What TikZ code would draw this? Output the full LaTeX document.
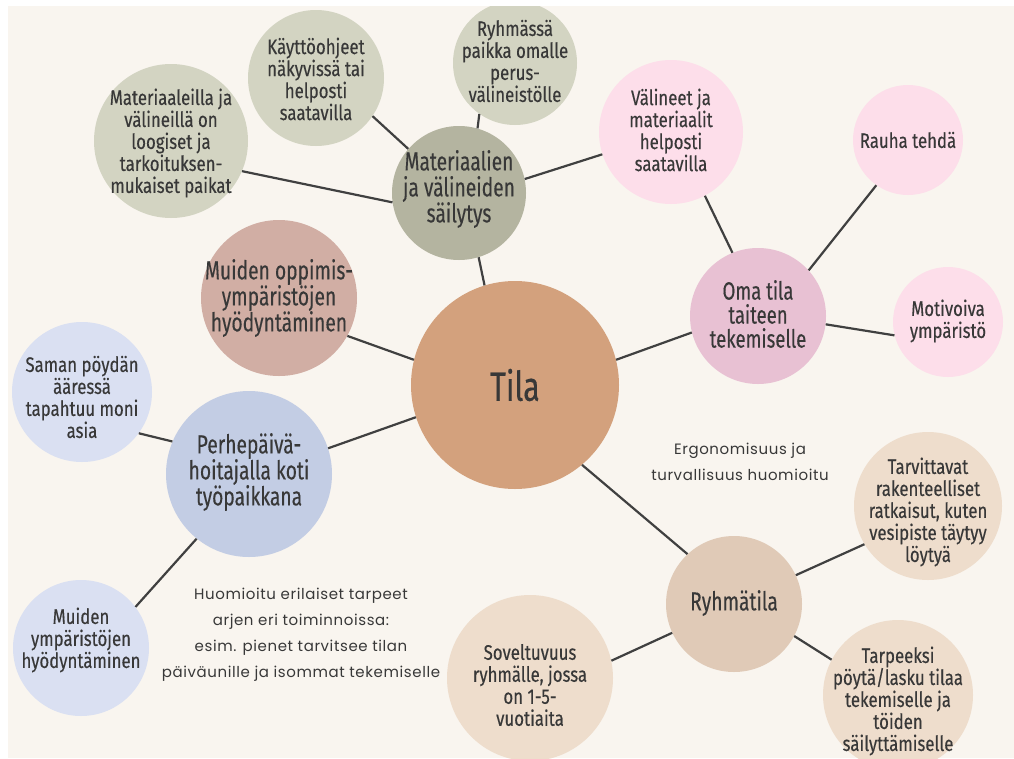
\documentclass[tikz,border=0pt]{standalone}
\usepackage{fontspec}
\setmainfont[FakeStretch=0.74, FakeBold=0.3]{Fira Sans}
\newfontfamily\leaffont[FakeStretch=0.8, FakeBold=0.3]{Fira Sans}
\newfontfamily\handfont[LetterSpace=4]{Poppins}
\definecolor{cream}{HTML}{F9F5EF}
\definecolor{tilac}{HTML}{D3A17D}
\definecolor{matc}{HTML}{B4B4A0}
\definecolor{olive}{HTML}{D3D4C2}
\definecolor{pinkl}{HTML}{FDDEEA}
\definecolor{omac}{HTML}{E8C1D3}
\definecolor{rosec}{HTML}{D1AEA4}
\definecolor{perc}{HTML}{C3CDE4}
\definecolor{bluel}{HTML}{DAE0F2}
\definecolor{rytc}{HTML}{E0CAB7}
\definecolor{beigel}{HTML}{EEDDCC}
\definecolor{lin}{HTML}{404040}
\definecolor{txt}{HTML}{383838}
\tikzset{
  bub/.style={circle, inner sep=0pt, draw=none},
  lab/.style={align=center, text=txt, font=\leaffont\fontsize{21}{22}\selectfont, inner sep=0pt},
  biglab/.style={align=center, text=txt, font=\fontsize{26}{26}\selectfont, inner sep=0pt},
  con/.style={draw=lin, line width=2.2pt},
  note/.style={align=center, text=txt, font=\handfont\fontsize{15}{26}\selectfont, inner sep=0pt}
}
\begin{document}
\begin{tikzpicture}[x=1pt,y=-1pt]
\useasboundingbox (0,0) rectangle (1014,758);
\fill[white] (0,0) rectangle (1014,758);
\fill[cream] (8,6) rectangle (1014,758);
\begin{scope}
\clip (8,6) rectangle (1014,758);
% central
\node[bub, fill=tilac, minimum size=208pt] (tila) at (515,385) {};
% materials branch
\node[bub, fill=matc, minimum size=134pt] (mat) at (459,193) {};
\node[bub, fill=olive, minimum size=154pt] (matl) at (171,141) {};
\node[bub, fill=olive, minimum size=136pt] (kay) at (316,78) {};
\node[bub, fill=olive, minimum size=124pt] (ryh) at (515,63) {};
% own space branch
\node[bub, fill=pinkl, minimum size=144pt] (val) at (671,132) {};
\node[bub, fill=omac, minimum size=136pt] (oma) at (758,316) {};
\node[bub, fill=pinkl, minimum size=110pt] (rau) at (908,140) {};
\node[bub, fill=pinkl, minimum size=110pt] (mot) at (948,322) {};
% other learning environments
\node[bub, fill=rosec, minimum size=156pt] (muo) at (279,298) {};
% family day care branch
\node[bub, fill=perc, minimum size=166pt] (per) at (249,474) {};
\node[bub, fill=bluel, minimum size=140pt] (sam) at (82,392) {};
\node[bub, fill=bluel, minimum size=136pt] (muy) at (81,648) {};
% group room branch
\node[bub, fill=rytc, minimum size=136pt] (ryt) at (734,604) {};
\node[bub, fill=beigel, minimum size=148pt] (tar) at (928,506) {};
\node[bub, fill=beigel, minimum size=150pt] (tpk) at (898,695) {};
\node[bub, fill=beigel, minimum size=166pt] (sov) at (530,678) {};
\end{scope}
% connectors
\draw[con] (tila.107.7) -- (mat.-73.7);
\draw[con] (mat.188.5) -- (matl.-23);
\draw[con] (mat.139) -- (kay.-34);
\draw[con] (mat.74.5) -- (ryh.235);
\draw[con] (mat.12) -- (val.198);
\draw[con] (tila.14.4) -- (oma.194.4);
\draw[con] (oma.112.8) -- (val.-62.4);
\draw[con] (oma.42.6) -- (rau.235);
\draw[con] (oma.-7.5) -- (mot.194.8);
\draw[con] (tila.166) -- (muo.-29.4);
\draw[con] (tila.198.4) -- (per.18);
\draw[con] (per.157.8) -- (sam.-36);
\draw[con] (per.231) -- (muy.37.9);
\draw[con] (tila.-50.7) -- (ryt.133);
\draw[con] (ryt.25.8) -- (tar.211);
\draw[con] (ryt.-28) -- (tpk.152.7);
\draw[con] (ryt.205.4) -- (sov.12.4);
% labels
\node[biglab, font=\fontsize{41}{41}\selectfont] (tilaT) at (515,385) {Tila};
\node[biglab] (matT) at (459,189) {Materiaalien\\ja välineiden\\säilytys};
\node[lab] (matlT) at (171,143) {Materiaaleilla ja\\välineillä on\\loogiset ja\\tarkoituksen-\\mukaiset paikat};
\node[lab] (kayT) at (316,79) {Käyttöohjeet\\näkyvissä tai\\helposti\\saatavilla};
\node[lab] (ryhT) at (515,61) {Ryhmässä\\paikka omalle\\perus-\\välineistölle};
\node[lab] (valT) at (671,130) {Välineet ja\\materiaalit\\helposti\\saatavilla};
\node[biglab, font=\fontsize{25}{24}\selectfont] (omaT) at (758,314) {Oma tila\\taiteen\\tekemiselle};
\node[lab] (rauT) at (908,140) {Rauha tehdä};
\node[lab] (motT) at (948,321) {Motivoiva\\ympäristö};
\node[biglab] (muoT) at (279,298) {Muiden oppimis-\\ympäristöjen\\hyödyntäminen};
\node[biglab] (perT) at (249,472) {Perhepäivä-\\hoitajalla koti\\työpaikkana};
\node[lab] (samT) at (82,397) {Saman pöydän\\ääressä\\tapahtuu moni\\asia};
\node[lab] (muyT) at (81,640) {Muiden\\ympäristöjen\\hyödyntäminen};
\node[biglab] (rytT) at (734,603) {Ryhmätila};
\node[lab] (tarT) at (928,512) {Tarvittavat\\rakenteelliset\\ratkaisut, kuten\\vesipiste täytyy\\löytyä};
\node[lab] (tpkT) at (898,701) {Tarpeeksi\\pöytä/lasku tilaa\\tekemiselle ja\\töiden\\säilyttämiselle};
\node[lab] (sovT) at (530,685) {Soveltuvuus\\ryhmälle, jossa\\on 1-5-\\vuotiaita};
% notes
\node[note] (note1) at (301,635) {Huomioitu erilaiset tarpeet\\arjen eri toiminnoissa:\\esim. pienet tarvitsee tilan\\päiväunille ja isommat tekemiselle};
\node[note] (note2) at (740,462) {Ergonomisuus ja\\turvallisuus huomioitu};
\end{tikzpicture}
\end{document}
